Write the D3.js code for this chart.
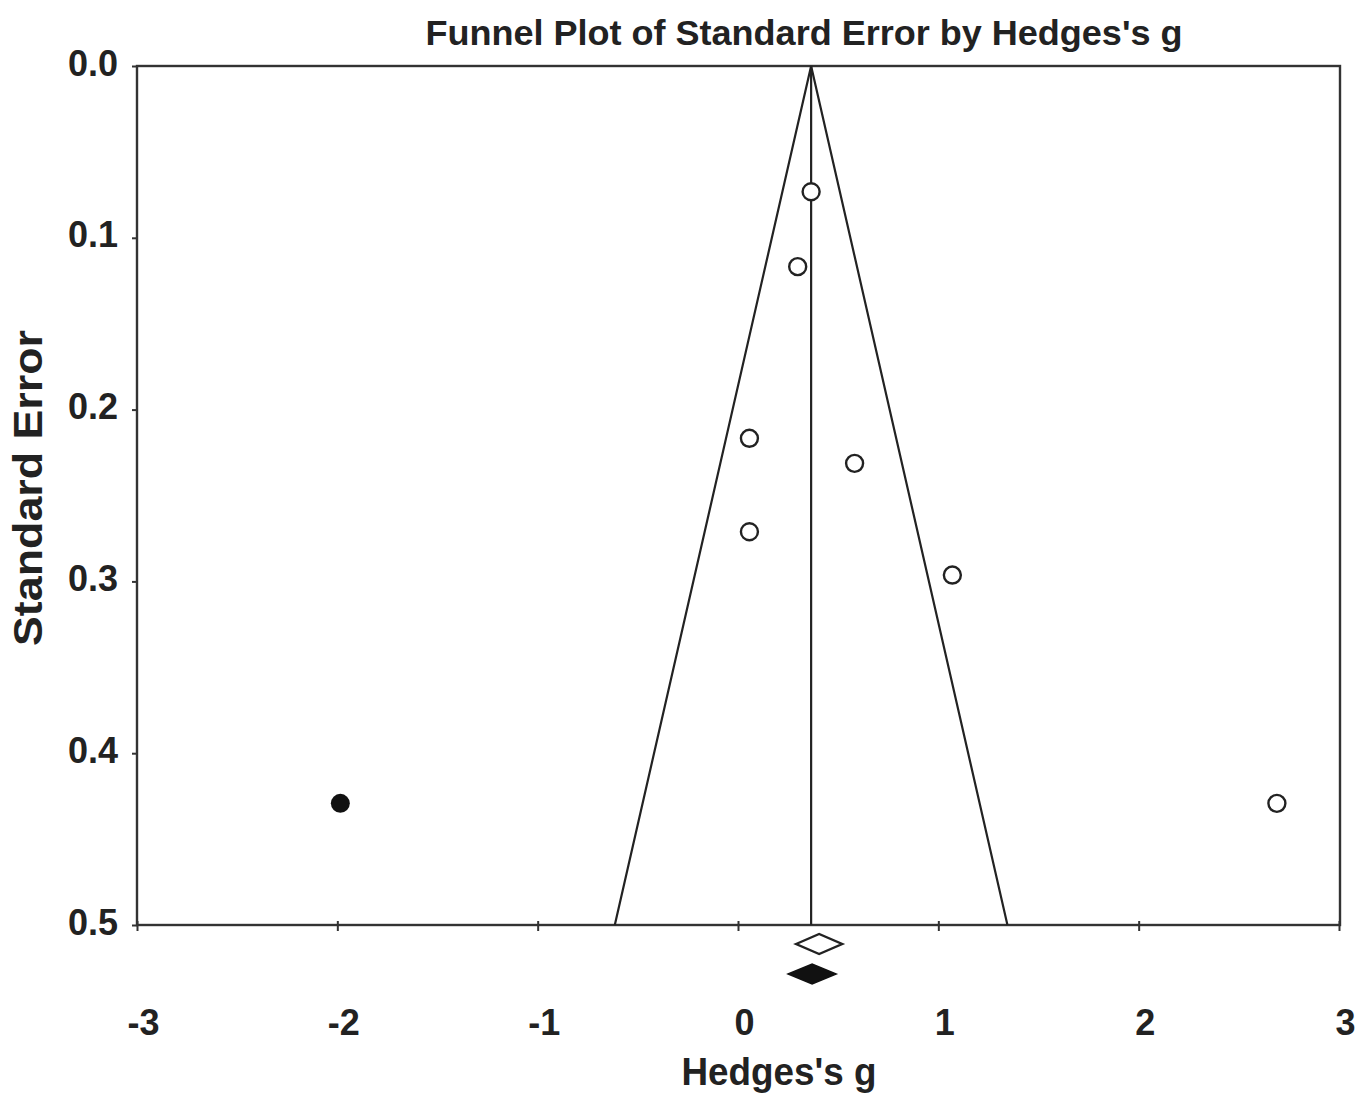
<!DOCTYPE html>
<html>
<head>
<meta charset="utf-8">
<script src="https://cdn.jsdelivr.net/npm/d3@7"></script>
<style>
  html, body { margin: 0; padding: 0; background: #fff; }
  svg { display: block; font-family: "Liberation Sans", Arial, sans-serif; }
</style>
</head>
<body>
<svg id="chart" width="1368" height="1096"></svg>
<script>
// ---- data ----
const studyG  = [0.365, 0.298, 0.057, 0.582, 0.057, 1.07, 2.69];
const studySE = [0.0732, 0.1168, 0.2167, 0.2313, 0.2711, 0.2963, 0.4292];
const imputedG  = [-1.985];
const imputedSE = [0.4292];
const pooledG = 0.365;               // funnel centre
const observedDiamond = [0.29, 0.405, 0.52];   // lower, point, upper
const adjustedDiamond = [0.25, 0.37, 0.49];
const xTicks = [-3, -2, -1, 0, 1, 2, 3];
const xTickLabels = ["-3", "-2", "-1", "0", "1", "2", "3"];
const yTicks = [0.0, 0.1, 0.2, 0.3, 0.4, 0.5];
const yTickLabels = ["0.0", "0.1", "0.2", "0.3", "0.4", "0.5"];
const titleText = "Funnel Plot of Standard Error by Hedges's g";
const xTitle = "Hedges's g";
const yTitle = "Standard Error";

// ---- layout ----
const L = 137, R = 1339, T = 66, B = 925;
const svg = d3.select("#chart");
const x = d3.scaleLinear().domain([-3, 3]).range([L, R]);
const y = d3.scaleLinear().domain([0, 0.5]).range([T, B]);
const ink = "#222";

// frame
svg.append("rect").attr("x", L).attr("y", T).attr("width", 1340 - L).attr("height", B - T)
  .attr("fill", "none").attr("stroke", "#333").attr("stroke-width", 2.4);

// x axis
const gx = svg.append("g").attr("transform", `translate(0,${B})`)
  .call(d3.axisBottom(x).tickValues(xTicks).tickFormat((d, i) => xTickLabels[i]).tickSize(6).tickSizeOuter(0));
gx.select(".domain").remove();
gx.selectAll(".tick line").attr("y1", -4).attr("y2", 6).attr("stroke", "#333").attr("stroke-width", 2);
gx.selectAll(".tick text")
  .attr("y", 0).attr("dy", null)
  .attr("transform", "translate(6,110)")
  .attr("font-size", 36).attr("font-weight", "bold").attr("fill", ink)
  .attr("font-family", "Liberation Sans, Arial, sans-serif");

// y axis
const gy = svg.append("g").attr("transform", `translate(${L},0)`)
  .call(d3.axisLeft(y).tickValues(yTicks).tickFormat((d, i) => yTickLabels[i]).tickSize(5).tickSizeOuter(0));
gy.select(".domain").remove();
gy.selectAll(".tick line").attr("stroke", "#333").attr("stroke-width", 2);
gy.selectAll(".tick text")
  .attr("x", -19).attr("dy", null).attr("y", 9)
  .attr("font-size", 36).attr("font-weight", "bold").attr("fill", ink)
  .attr("font-family", "Liberation Sans, Arial, sans-serif");

// funnel
const seMax = 0.5;
const funnel = [[pooledG - 1.96 * seMax, seMax], [pooledG, 0], [pooledG + 1.96 * seMax, seMax]];
svg.append("path")
  .attr("d", d3.line().x(d => x(d[0])).y(d => y(d[1]))(funnel))
  .attr("fill", "none").attr("stroke", ink).attr("stroke-width", 2.2);
svg.append("line")
  .attr("x1", x(pooledG)).attr("x2", x(pooledG)).attr("y1", y(0)).attr("y2", y(seMax))
  .attr("stroke", ink).attr("stroke-width", 2.2);

// observed studies
svg.append("g").selectAll("circle").data(studyG).join("circle")
  .attr("cx", d => x(d)).attr("cy", (d, i) => y(studySE[i])).attr("r", 8.5)
  .attr("fill", "#fff").attr("stroke", ink).attr("stroke-width", 2.4);
// imputed studies
svg.append("g").selectAll("circle").data(imputedG).join("circle")
  .attr("cx", d => x(d)).attr("cy", (d, i) => y(imputedSE[i])).attr("r", 9.5)
  .attr("fill", "#111");

// diamonds
function diamond(v, cy, h) {
  return `M${x(v[0])},${cy} L${x(v[1])},${cy - h} L${x(v[2])},${cy} L${x(v[1])},${cy + h} Z`;
}
svg.append("path").attr("d", diamond(observedDiamond, B + 19, 10))
  .attr("fill", "#fff").attr("stroke", ink).attr("stroke-width", 2.4);
svg.append("path").attr("d", diamond(adjustedDiamond, B + 49, 10))
  .attr("fill", "#111").attr("stroke", "#111").attr("stroke-width", 1.5);

// titles
svg.append("text").attr("x", 804).attr("y", 45).attr("text-anchor", "middle")
  .attr("font-size", 35).attr("font-weight", "bold").attr("fill", ink)
  .attr("textLength", 757).attr("lengthAdjust", "spacingAndGlyphs").text(titleText);
svg.append("text").attr("x", 779).attr("y", 1085).attr("text-anchor", "middle")
  .attr("font-size", 38).attr("font-weight", "bold").attr("fill", ink)
  .attr("textLength", 195).attr("lengthAdjust", "spacingAndGlyphs").text(xTitle);
svg.append("text").attr("transform", "translate(42,488) rotate(-90)").attr("text-anchor", "middle")
  .attr("font-size", 40).attr("font-weight", "bold").attr("fill", ink)
  .attr("textLength", 316).attr("lengthAdjust", "spacingAndGlyphs").text(yTitle);
</script>
</body>
</html>
